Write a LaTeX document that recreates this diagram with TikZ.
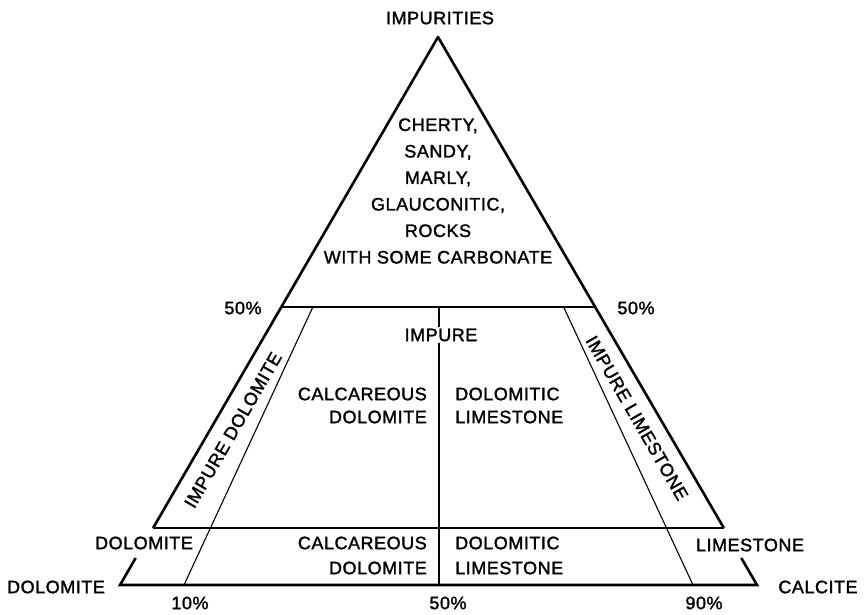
\documentclass[tikz,border=0pt]{standalone}
\usepackage{fontspec}
\setmainfont[LetterSpace=3,FakeBold=1.6]{Liberation Sans}
\usetikzlibrary{calc}
\begin{document}
\begin{tikzpicture}[x=1pt,y=-1pt,
		thickline/.style={line width=2.6pt},
		thinline/.style={line width=1.1pt},
		lbl/.style={font=\fontsize{18}{26.5}\selectfont,inner sep=0pt}]
		\useasboundingbox (0,0) rectangle (866,614);
		% corners of the diagram
		\coordinate (top) at (438,37);
		\coordinate (dol) at (120,585);
		\coordinate (cal) at (757,585);
		\coordinate (p10) at (184,585);
		\coordinate (p50) at (439,585);
		\coordinate (p90) at (693,585);
		% points on the sides
		\coordinate (dolhalf) at ($(top)!.4927!(dol)$);
		\coordinate (calhalf) at ($(top)!.4927!(cal)$);
		\coordinate (dolend) at ($(top)!.896!(dol)$);
		\coordinate (calend) at ($(top)!.896!(cal)$);
		\coordinate (dolstub) at ($(top)!.9507!(dol)$);
		\coordinate (calstub) at ($(top)!.9507!(cal)$);
		\coordinate (halftop) at (439,307);
		
		\draw[thickline,line join=round] (dolend) -- (top) -- (calend);
		\draw[thickline] (dolstub) -- (dol) -- (cal) -- (calstub);
		\draw[thinline] (dolhalf) -- (calhalf);
		\draw[thinline] (dolend) -- (calend);
		\foreach \p in {p10, p90}{
			\draw[thinline] ($(top)!.4927!(\p)$) -- (\p);
		}
		\draw[thinline] (halftop) -- (p50);
		
		\node[lbl] (impurities) at (440,18) {IMPURITIES};
		\node[lbl,align=center] (rocks) at (438,191) {CHERTY,\\SANDY,\\MARLY,\\GLAUCONITIC,\\ROCKS\\WITH SOME CARBONATE};
		\node[lbl] (halfl) at (243,308) {50\%};
		\node[lbl] (halfr) at (636,308) {50\%};
		\node[lbl,fill=white,inner sep=2pt] (impure) at (441,335) {IMPURE};
		
		\node[lbl,rotate=60] (impdol) at (233,430) {IMPURE DOLOMITE};
		\node[lbl,rotate=-60] (implime) at (637,418) {IMPURE LIMESTONE};
		
		\foreach \y/\s in {405.5/23, 555.5/25}{
			\node[lbl,font=\fontsize{18}{\s}\selectfont,anchor=east,align=right] at (427,\y) {CALCAREOUS\\DOLOMITE};
			\node[lbl,font=\fontsize{18}{\s}\selectfont,anchor=west,align=left] at (455,\y) {DOLOMITIC\\LIMESTONE};
		}
		
		\node[lbl] (dolomite) at (144,543) {DOLOMITE};
		\node[lbl] (limestone) at (750,545) {LIMESTONE};
		\node[lbl] (dolomitecorner) at (56,587) {DOLOMITE};
		\node[lbl] (calcite) at (818,587) {CALCITE};
		\foreach \x/\t in {190/10, 448/50, 704/90}{
			\node[lbl] at (\x,603) {\t\%};
		}
\end{tikzpicture}
\end{document}
